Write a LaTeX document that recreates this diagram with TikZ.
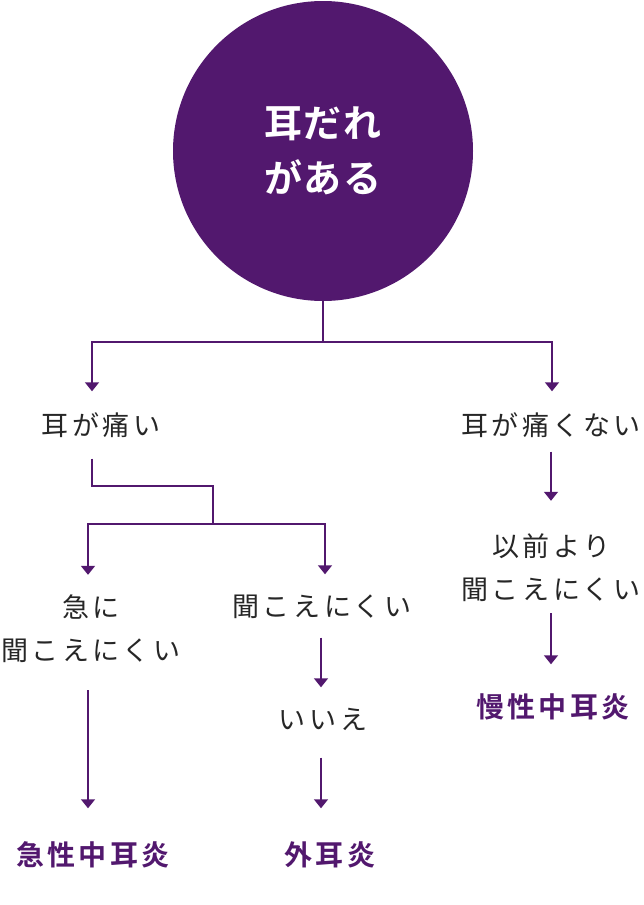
\documentclass[tikz,border=0pt]{standalone}
\usepackage{fontspec}
\usetikzlibrary{arrows.meta,calc}
\newfontfamily\jpr{Noto Sans CJK JP}[LetterSpace=13]
\newfontfamily\jpb{Noto Sans CJK JP Bold}[LetterSpace=12]
\newfontfamily\jpc{Noto Sans CJK JP Bold}[LetterSpace=5]
\definecolor{pur}{RGB}{82,24,110}
\begin{document}
\begin{tikzpicture}[x=1pt,y=-1pt,
  line/.style={draw=pur,line width=1.6pt},
  arr/.style={line,-{Triangle[width=14pt,length=9pt]}},
  txt/.style={inner sep=0pt,text=black!85,font=\jpr\fontsize{27}{43}\selectfont,text height=22pt,text depth=3pt},
  txtm/.style={inner sep=0pt,text=black!85,font=\jpr\fontsize{27}{43}\selectfont,align=center},
  res/.style={inner sep=0pt,text=pur,font=\jpb\fontsize{28}{34}\selectfont,text height=23pt,text depth=4pt},
  circ/.style={circle,fill=pur,minimum size=300pt,inner sep=0pt,text=white,font=\jpc\fontsize{38}{55}\selectfont,align=center}]
\useasboundingbox (0,0) rectangle (644,905);
\node[circ] (c) at (323,151) {耳だれ\\がある};
\node[txt] (n1) at (101,426) {耳が痛い};
\node[txt] (n2) at (551,426) {耳が痛くない};
\node[txtm] (n3) at (91,629) {急に\\聞こえにくい};
\node[txt] (n4) at (322,607) {聞こえにくい};
\node[txt] (n5) at (323,720) {いいえ};
\node[res] (n6) at (330,856) {外耳炎};
\node[res] (n7) at (93,856) {急性中耳炎};
\node[txtm] (n8) at (551,568) {以前より\\聞こえにくい};
\node[res] (n9) at (553,708) {慢性中耳炎};
\coordinate (j0) at (323,342);
\coordinate (j1a) at (213,486);
\coordinate (j1) at (213,524);
\draw[line] (c.south) -- (j0);
\draw[arr] (j0) -| ($(n1.north)+(-9,-22)$);
\draw[arr] (j0) -| ($(n2.north)+(1,-22)$);
\draw[line] ($(n1.south)+(-9,20)$) |- (j1a) -- (j1);
\draw[arr] (j1) -| ($(n3.north)+(-3,-20)$);
\draw[arr] (j1) -| ($(n4.north)+(3,-20)$);
\draw[arr] ($(n4.south)+(-1,18)$) -- ($(n5.north)+(-2,-20)$);
\draw[arr] ($(n5.south)+(-2,25)$) -- ($(n6.north)+(-9,-34)$);
\draw[arr] ($(n3.south)+(-3,27)$) -- ($(n7.north)+(-5,-34)$);
\draw[arr] ($(n2.south)+(0,13)$) -- ($(n8.north)+(0,-33)$);
\draw[arr] ($(n8.south)+(0,11)$) -- ($(n9.north)+(-2,-30)$);
\end{tikzpicture}
\end{document}
